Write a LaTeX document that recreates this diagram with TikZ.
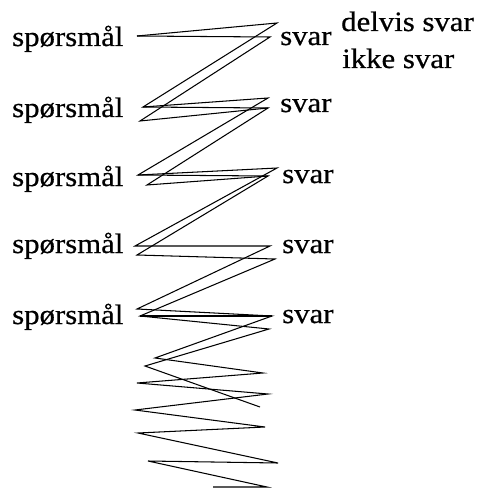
\documentclass[tikz,border=0pt]{standalone}
\usepackage{fontspec}
\newfontfamily\lblfont[FakeStretch=1.1,FakeBold=0.6]{Liberation Serif}
\begin{document}
\begin{tikzpicture}[x=1pt,y=-1pt,
  lbl/.style={inner sep=0pt,anchor=base west,font=\lblfont\fontsize{28}{28}\selectfont},
  scribble/.style={line width=1.05pt,line join=miter}]
\useasboundingbox (0,0) rectangle (476,489);
% labels
\node[lbl] (q1) at (12,46) {spørsmål};
\node[lbl] (q2) at (12,117) {spørsmål};
\node[lbl] (q3) at (12,186) {spørsmål};
\node[lbl] (q4) at (12,253) {spørsmål};
\node[lbl] (q5) at (12,324) {spørsmål};
\node[lbl] (s1) at (280,45) {svar};
\node[lbl] (s2) at (280,112) {svar};
\node[lbl] (s3) at (282,183) {svar};
\node[lbl] (s4) at (282,253) {svar};
\node[lbl] (s5) at (282,323) {svar};
\node[lbl] (dv) at (341,31) {delvis svar};
\node[lbl] (ik) at (342,68) {ikke svar};
% vertices
\coordinate (r1a) at (137,36);
\coordinate (r1u) at (277,23);
\coordinate (r1l) at (270,37);
\coordinate (l2u) at (143,107);
\coordinate (l2l) at (140,121);
\coordinate (r2u) at (268,98);
\coordinate (r2l) at (268,108);
\coordinate (l3u) at (138,175);
\coordinate (l3l) at (147,185);
\coordinate (r3u) at (277,168);
\coordinate (r3l) at (268,176);
\coordinate (l4u) at (135,246);
\coordinate (l4l) at (137,255);
\coordinate (r4u) at (270,246);
\coordinate (r4l) at (275,259);
\coordinate (l5u) at (137,309);
\coordinate (l5l) at (140,316);
\coordinate (r5u) at (272,316);
\coordinate (r5l) at (269,329);
\coordinate (b1) at (155,358);
\coordinate (b2) at (145,366);
\coordinate (b3) at (263,373);
\coordinate (b4) at (137,383);
\coordinate (b5) at (268,394);
\coordinate (b6) at (135,410);
\coordinate (b7) at (265,427);
\coordinate (b8) at (138,433);
\coordinate (b9) at (278,463);
\coordinate (b10) at (148,461);
\coordinate (b11) at (267,487);
\coordinate (b12) at (213,487);
\coordinate (b13) at (260,407);
% path A
\draw[scribble] (r1a) -- (r1u) -- (l2u) -- (r2u) -- (l3u) -- (r3u) -- (l4u) -- (r4u)
  -- (l5u) -- (r5u) -- (b1) -- (b3) -- (b4) -- (b5) -- (b6) -- (b7) -- (b8) -- (b9)
  -- (b10) -- (b11) -- (b12);
% path B
\draw[scribble] (r1a) -- (r1l) -- (l2l) -- (r2l) -- (l3l) -- (r3l) -- (l4l) -- (r4l)
  -- (l5l) -- (r5l) -- (b2) -- (b13);
% extra strokes
\draw[scribble] (l2u) -- (r2l);
\draw[scribble] (l3u) -- (r3l);
\draw[scribble] (l5l) -- (r5u);
\end{tikzpicture}
\end{document}
